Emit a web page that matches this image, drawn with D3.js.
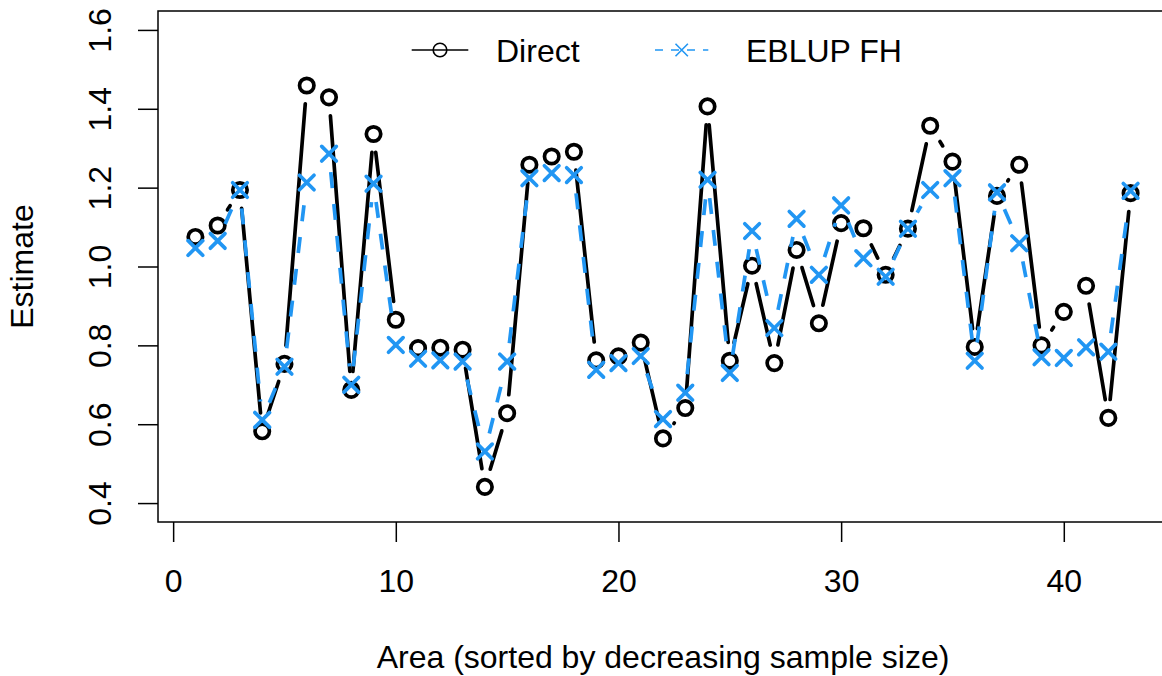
<!DOCTYPE html>
<html>
<head>
<meta charset="utf-8">
<script src="https://cdn.jsdelivr.net/npm/d3@7"></script>
<style>
  body { margin: 0; background: #fff; }
  svg { display: block; }
  text { font-family: "Liberation Sans", Arial, Helvetica, sans-serif; fill: #000; }
</style>
</head>
<body>
<svg id="chart" width="1162" height="676"></svg>
<script>
// Areas, sorted by decreasing sample size
const areas = d3.range(1, 44);

// Direct estimates per area
const direct = [
  1.075, 1.104, 1.194, 0.582, 0.753, 1.459, 1.429, 0.687, 1.336, 0.865,
  0.793, 0.794, 0.789, 0.441, 0.628, 1.258, 1.279, 1.291, 0.762, 0.772,
  0.807, 0.564, 0.641, 1.406, 0.761, 1.002, 0.755, 1.042, 0.856, 1.110,
  1.097, 0.979, 1.096, 1.357, 1.266, 0.796, 1.179, 1.258, 0.800, 0.885,
  0.951, 0.616, 1.186
];

// Fay-Herriot EBLUP estimates per area
const eblup = [
  1.047, 1.065, 1.194, 0.611, 0.746, 1.213, 1.286, 0.700, 1.210, 0.801,
  0.766, 0.762, 0.759, 0.531, 0.759, 1.224, 1.237, 1.232, 0.738, 0.755,
  0.773, 0.613, 0.680, 1.220, 0.730, 1.090, 0.844, 1.121, 0.979, 1.155,
  1.021, 0.974, 1.096, 1.194, 1.224, 0.761, 1.188, 1.059, 0.770, 0.768,
  0.795, 0.784, 1.192
];

const seriesNames = ["Direct", "EBLUP FH"];
const xTicks = [0, 10, 20, 30, 40];
const yTicks = [0.4, 0.6, 0.8, 1.0, 1.2, 1.4, 1.6];

const BLUE = "#2196F3";
const FONT = 32;
const LW = 3.7;

const svg = d3.select("#chart");
const box = { left: 158, right: 1168, top: 11, bottom: 522 };

// axis ranges padded by 4% on each side
const xDom = [1, 43], yDom = [0.4, 1.6];
const xPad = (xDom[1] - xDom[0]) * 0.04, yPad = (yDom[1] - yDom[0]) * 0.04;
const x = d3.scaleLinear().domain([xDom[0] - xPad, xDom[1] + xPad]).range([box.left, box.right]);
const y = d3.scaleLinear().domain([yDom[0] - yPad, yDom[1] + yPad]).range([box.bottom, box.top]);

// plot frame
svg.append("rect")
  .attr("x", box.left).attr("y", box.top)
  .attr("width", box.right - box.left).attr("height", box.bottom - box.top)
  .attr("fill", "none").attr("stroke", "#000").attr("stroke-width", 1.5);

// x axis
const gx = svg.append("g")
  .attr("transform", `translate(0,${box.bottom})`)
  .call(d3.axisBottom(x).tickValues(xTicks).tickFormat(d3.format("d")).tickSize(20).tickPadding(27.6));
gx.select(".domain").remove();
gx.selectAll(".tick line").attr("stroke", "#000").attr("stroke-width", 1.5);
gx.selectAll(".tick text").attr("font-size", FONT).attr("font-family", null).attr("fill", "#000");

// y axis with labels rotated parallel to the axis
const gy = svg.append("g")
  .attr("transform", `translate(${box.left},0)`)
  .call(d3.axisLeft(y).tickValues(yTicks).tickFormat(d3.format(".1f")).tickSize(20));
gy.select(".domain").remove();
gy.selectAll(".tick line").attr("stroke", "#000").attr("stroke-width", 1.5);
gy.selectAll(".tick text")
  .attr("font-size", FONT).attr("font-family", null).attr("fill", "#000")
  .attr("x", null).attr("dy", null).attr("text-anchor", "middle")
  .attr("transform", "translate(-47,0) rotate(-90)");

// axis titles
svg.append("text")
  .attr("x", (box.left + box.right) / 2).attr("y", 668)
  .attr("text-anchor", "middle").attr("font-size", FONT)
  .text("Area (sorted by decreasing sample size)");
svg.append("text")
  .attr("transform", `translate(33,${(box.top + box.bottom) / 2}) rotate(-90)`)
  .attr("text-anchor", "middle").attr("font-size", FONT)
  .text("Estimate");

// connecting segments, trimmed near each point
const GAP = 18.5;
function gappedSegments(values) {
  const segs = [];
  for (let i = 0; i < values.length - 1; i++) {
    const x0 = x(areas[i]), y0 = y(values[i]);
    const x1 = x(areas[i + 1]), y1 = y(values[i + 1]);
    const d = Math.hypot(x1 - x0, y1 - y0);
    if (d <= 2 * GAP) continue;
    const ux = (x1 - x0) / d, uy = (y1 - y0) / d;
    segs.push([x0 + ux * GAP, y0 + uy * GAP, x1 - ux * GAP, y1 - uy * GAP]);
  }
  return segs;
}

function crossPath(cx, cy, h) {
  return `M${cx - h},${cy - h}L${cx + h},${cy + h}M${cx - h},${cy + h}L${cx + h},${cy - h}`;
}

// Direct series: solid black with open circles
const gD = svg.append("g");
gD.selectAll("line").data(gappedSegments(direct)).join("line")
  .attr("x1", d => d[0]).attr("y1", d => d[1]).attr("x2", d => d[2]).attr("y2", d => d[3])
  .attr("stroke", "#000").attr("stroke-width", LW).attr("stroke-linecap", "round");
gD.selectAll("circle").data(direct).join("circle")
  .attr("cx", (d, i) => x(areas[i])).attr("cy", d => y(d)).attr("r", 7.2)
  .attr("fill", "none").attr("stroke", "#000").attr("stroke-width", LW);

// EBLUP series: dashed blue with crosses
const gE = svg.append("g");
gE.selectAll("line").data(gappedSegments(eblup)).join("line")
  .attr("x1", d => d[0]).attr("y1", d => d[1]).attr("x2", d => d[2]).attr("y2", d => d[3])
  .attr("stroke", BLUE).attr("stroke-width", LW).attr("stroke-dasharray", "16,16")
  .attr("stroke-linecap", "butt");
gE.selectAll("path").data(eblup).join("path")
  .attr("d", (d, i) => crossPath(x(areas[i]), y(d), 7.3))
  .attr("fill", "none").attr("stroke", BLUE).attr("stroke-width", LW).attr("stroke-linecap", "round");

// legend
const lg = svg.append("g");
const legendY = 50;
lg.append("line").attr("x1", 411.7).attr("x2", 468.3).attr("y1", legendY).attr("y2", legendY)
  .attr("stroke", "#000").attr("stroke-width", 1.6);
lg.append("circle").attr("cx", 440).attr("cy", legendY).attr("r", 6.8)
  .attr("fill", "none").attr("stroke", "#000").attr("stroke-width", 1.6);
lg.append("text").attr("x", 496).attr("y", 62).attr("font-size", FONT).text(seriesNames[0]);

lg.append("line").attr("x1", 655).attr("x2", 708.3).attr("y1", legendY).attr("y2", legendY)
  .attr("stroke", BLUE).attr("stroke-width", 1.6).attr("stroke-dasharray", "8,8");
lg.append("path").attr("d", crossPath(681.7, legendY, 6.2))
  .attr("fill", "none").attr("stroke", BLUE).attr("stroke-width", 1.6);
lg.append("text").attr("x", 746).attr("y", 62).attr("font-size", FONT).text(seriesNames[1]);
</script>
</body>
</html>
